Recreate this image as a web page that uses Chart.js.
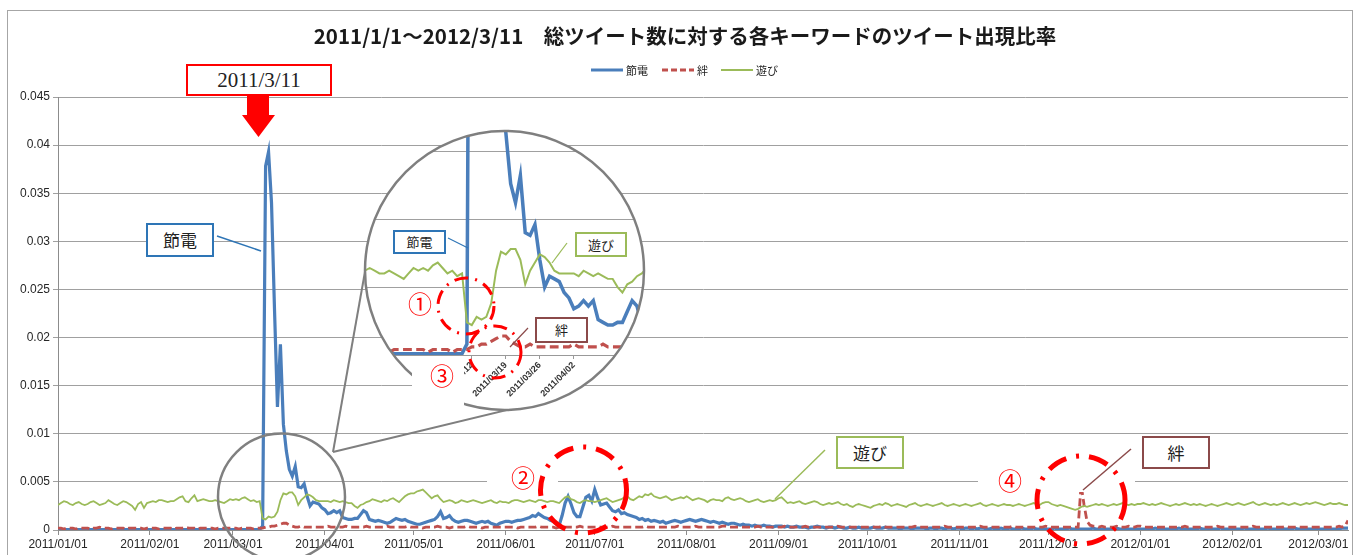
<!DOCTYPE html>
<html lang="ja">
<head>
<meta charset="utf-8">
<title>総ツイート数に対する各キーワードのツイート出現比率</title>
<script src="https://cdn.jsdelivr.net/npm/chart.js@4/dist/chart.umd.min.js"></script>
<style>
  html, body { margin: 0; padding: 0; background: #fff; }
  body { width: 1354px; height: 555px; position: relative; overflow: hidden; font-family: "Noto Sans CJK JP", "Noto Sans", sans-serif; }
  #frame { position: absolute; left: 7px; top: 10px; width: 1344px; height: 560px; border: 1px solid #a6a6a6; }
  #main { position: absolute; left: 0; top: 0; z-index: 1; }
  #title { position: absolute; left: 0; top: 20px; width: 1370px; text-align: center; font-size: 20.5px; font-weight: bold; color: #1a1a1a; z-index: 2; }
  .leg { position: absolute; top: 62px; font-size: 11px; color: #222; z-index: 2; }
  svg.layer { position: absolute; left: 0; top: 0; }
  #under { z-index: 2; }
  #insetWrap { position: absolute; left: 365px; top: 131px; width: 279px; height: 279px; clip-path: circle(139.5px at 50% 50%); background: #fff; z-index: 3; }
  #inset { position: absolute; left: 0; top: 0; }
  #over { z-index: 4; }
  .box { position: absolute; box-sizing: border-box; background: #fff; text-align: center; color: #222; z-index: 5; }
  .num { position: absolute; color: #ff0000; font-size: 24px; z-index: 5; line-height: 1; }
</style>
</head>
<body>
<div id="frame"></div>
<canvas id="main" width="1354" height="555"></canvas>
<div id="title">2011/1/1～2012/3/11　総ツイート数に対する各キーワードのツイート出現比率</div>

<svg class="layer" id="legendLines" width="1354" height="555" style="z-index:2">
  <line x1="591" y1="70" x2="623" y2="70" stroke="#4a7ebb" stroke-width="3"/>
  <line x1="662" y1="70" x2="694" y2="70" stroke="#c0504d" stroke-width="3" stroke-dasharray="6 3"/>
  <line x1="721" y1="70" x2="753" y2="70" stroke="#9bbb59" stroke-width="2"/>
</svg>
<div class="leg" style="left:626px">節電</div>
<div class="leg" style="left:697px">絆</div>
<div class="leg" style="left:756px">遊び</div>

<svg class="layer" id="under" width="1354" height="555">
  <rect x="487" y="466" width="71" height="26" fill="#fff"/>
  <rect x="978" y="466" width="157" height="26" fill="#fff"/>
  <line x1="333" y1="452" x2="366" y2="266" stroke="#7f7f7f" stroke-width="2"/>
  <line x1="333" y1="452" x2="515" y2="408" stroke="#7f7f7f" stroke-width="2"/>
  <circle cx="281.5" cy="497" r="63.5" fill="none" stroke="#808080" stroke-width="2.5"/>
</svg>

<div id="insetWrap"><canvas id="inset" width="279" height="279"></canvas></div>

<svg class="layer" id="over" width="1354" height="555">
  <circle cx="504.5" cy="270.5" r="139.5" fill="none" stroke="#7f7f7f" stroke-width="2.5"/>
  <rect x="412" y="357" width="52" height="48" fill="#fff"/>
  <polygon points="247,95 269,95 269,115 275,115 258.5,137 242,115 247,115" fill="#ff0000"/>
  <line x1="217" y1="236" x2="261" y2="251" stroke="#2e75b6" stroke-width="1.5"/>
  <line x1="825" y1="450" x2="775" y2="499" stroke="#9bbb59" stroke-width="1.5"/>
  <line x1="1131" y1="449" x2="1083" y2="490" stroke="#8b4a4a" stroke-width="1.5"/>
  <line x1="448" y1="238" x2="468" y2="248" stroke="#2e75b6" stroke-width="1.2"/>
  <line x1="567" y1="243" x2="552" y2="263" stroke="#9bbb59" stroke-width="1.2"/>
  <line x1="528" y1="328" x2="510" y2="347" stroke="#8b4a4a" stroke-width="1.2"/>
  <g fill="none" stroke="#ff0000" stroke-dasharray="20 10 3 10">
    <circle cx="583.5" cy="490" r="43" stroke-width="5"/>
    <circle cx="1081" cy="500" r="44" stroke-width="5"/>
    <circle cx="466" cy="306" r="28" stroke-width="3" stroke-dasharray="14 7 2 7"/>
    <circle cx="495" cy="352" r="26" stroke-width="3" stroke-dasharray="14 7 2 7"/>
  </g>
</svg>

<div class="box" style="left:186px;top:64px;width:146px;height:32px;border:2px solid #ff0000;font-family:'Liberation Serif',serif;font-size:21px;line-height:28px;">2011/3/11</div>
<div class="box" style="left:146px;top:223px;width:68px;height:34px;border:2px solid #2e75b6;font-size:17px;line-height:30px;">節電</div>
<div class="box" style="left:836px;top:436px;width:68px;height:33px;border:2px solid #9bbb59;font-size:17px;line-height:29px;">遊び</div>
<div class="box" style="left:1142px;top:436px;width:68px;height:33px;border:2px solid #8b4a4a;font-size:17px;line-height:29px;">絆</div>
<div class="box" style="left:393px;top:230px;width:53px;height:24px;border:2px solid #2e75b6;font-size:13px;line-height:20px;">節電</div>
<div class="box" style="left:575px;top:232px;width:52px;height:25px;border:2px solid #9bbb59;font-size:13px;line-height:21px;">遊び</div>
<div class="box" style="left:535px;top:317px;width:53px;height:26px;border:2px solid #8b4a4a;font-size:13px;line-height:22px;">絆</div>
<div class="num" style="left:408px;top:291px;">①</div>
<div class="num" style="left:511px;top:465px;">②</div>
<div class="num" style="left:430px;top:363px;">③</div>
<div class="num" style="left:998px;top:468px;">④</div>

<script>
// daily dates 2011/01/01 .. 2012/03/11
const dates = [];
for (let t = new Date(2011, 0, 1); t <= new Date(2012, 2, 11); t.setDate(t.getDate() + 1)) {
  dates.push(t.getFullYear() + "/" + String(t.getMonth() + 1).padStart(2, "0") + "/" + String(t.getDate()).padStart(2, "0"));
}

const xTickLabels = ["2011/01/01", "2011/02/01", "2011/03/01", "2011/04/01", "2011/05/01", "2011/06/01", "2011/07/01",
  "2011/08/01", "2011/09/01", "2011/10/01", "2011/11/01", "2011/12/01", "2012/01/01", "2012/02/01", "2012/03/01"];
const yTicks = [0, 0.005, 0.01, 0.015, 0.02, 0.025, 0.03, 0.035, 0.04, 0.045];
const insetTickLabels = ["2011/03/12", "2011/03/19", "2011/03/26", "2011/04/02"];
const insetGrid = [0, 0.0025, 0.005, 0.0075];

// 節電
const setsuden = [
  // 2011/01
  0.00005, 0.00005, 0.00005, 0.00005, 0.00005, 0.00005, 0.00005, 0.00005, 0.00005, 0.00005,
  0.00005, 0.00005, 0.00005, 0.00005, 0.00005, 0.00005, 0.00005, 0.00005, 0.00005, 0.00005,
  0.00005, 0.00005, 0.00005, 0.00005, 0.00005, 0.00005, 0.00005, 0.00005, 0.00005, 0.00005, 0.00005,
  // 2011/02
  0.00005, 0.00005, 0.00005, 0.00005, 0.00005, 0.00005, 0.00005, 0.00005, 0.00005, 0.00005,
  0.00005, 0.00005, 0.00005, 0.00005, 0.00005, 0.00005, 0.00005, 0.00005, 0.00005, 0.00005,
  0.00005, 0.00005, 0.00005, 0.00005, 0.00005, 0.00005, 0.00005, 0.00005,
  // 2011/03
  0.00005, 0.00005, 0.00005, 0.00005, 0.00005, 0.00005, 0.00005, 0.00005, 0.00005, 0.00005,
  0.0004, 0.0378, 0.0393, 0.0340, 0.0230, 0.0128, 0.0193, 0.0110, 0.0082, 0.0063,
  0.0056, 0.0066, 0.0045, 0.0044, 0.0048, 0.0035, 0.0025, 0.0029, 0.0028, 0.0027, 0.0023,
  // 2011/04
  0.0021, 0.0017, 0.0018, 0.0020, 0.0018, 0.0020, 0.0013, 0.0012, 0.0011, 0.0011,
  0.0012, 0.0012, 0.0016, 0.0020, 0.0018, 0.0011, 0.0010, 0.0009, 0.0010, 0.0009,
  0.0008, 0.0007, 0.0008, 0.0010, 0.0012, 0.0011, 0.0010, 0.0011, 0.0009, 0.0008,
  // 2011/05
  0.0007, 0.0006, 0.0006, 0.0007, 0.0008, 0.0009, 0.0010, 0.0011, 0.0014, 0.0019,
  0.0012, 0.0013, 0.0015, 0.0011, 0.0009, 0.0008, 0.0009, 0.0010, 0.0010, 0.0009,
  0.0008, 0.0007, 0.0008, 0.0009, 0.0008, 0.0009, 0.0007, 0.0006, 0.0005, 0.0007, 0.0008,
  // 2011/06
  0.0009, 0.0009, 0.0008, 0.0009, 0.0010, 0.0010, 0.0011, 0.0012, 0.0013, 0.0015,
  0.0014, 0.0017, 0.0015, 0.0013, 0.0012, 0.0010, 0.0009, 0.0007, 0.0005, 0.0015,
  0.0028, 0.0035, 0.0027, 0.0018, 0.0014, 0.0014, 0.0024, 0.0034, 0.0036, 0.0030,
  // 2011/07
  0.0042, 0.0033, 0.0026, 0.0027, 0.0028, 0.0024, 0.0020, 0.0019, 0.0021, 0.0017,
  0.0018, 0.0016, 0.0015, 0.0014, 0.0013, 0.0011, 0.0012, 0.0010, 0.0011, 0.0009,
  0.0010, 0.0009, 0.0008, 0.0009, 0.0007, 0.0008, 0.0009, 0.0010, 0.0009, 0.0008, 0.0009,
  // 2011/08
  0.0010, 0.0011, 0.0010, 0.0009, 0.0010, 0.0011, 0.0010, 0.0009, 0.0008, 0.0009,
  0.0008, 0.0007, 0.0008, 0.0007, 0.0006, 0.0007, 0.0007, 0.0006, 0.0005, 0.0006,
  0.0005, 0.0005, 0.0004, 0.0005, 0.0004, 0.0004, 0.0005, 0.0004, 0.0004, 0.0003, 0.0004,
  // 2011/09
  0.0004, 0.0004, 0.0003, 0.0004, 0.0003, 0.0003, 0.0004, 0.0003, 0.0003, 0.0003,
  0.0002, 0.0003, 0.0003, 0.0004, 0.0003, 0.0003, 0.0002, 0.0003, 0.0003, 0.0002,
  0.0003, 0.0003, 0.0002, 0.0002, 0.0003, 0.0002, 0.0002, 0.0003, 0.0002, 0.0002,
  // 2011/10
  0.0002, 0.0002, 0.0003, 0.0002, 0.0002, 0.0002, 0.0003, 0.0002, 0.0002, 0.0002,
  0.0002, 0.0001, 0.0002, 0.0002, 0.0002, 0.0001, 0.0002, 0.0002, 0.0002, 0.0002,
  0.0001, 0.0002, 0.0002, 0.0001, 0.0002, 0.0002, 0.0001, 0.0002, 0.0002, 0.0001, 0.0002,
  // 2011/11
  0.0002, 0.0001, 0.0002, 0.0002, 0.0001, 0.0002, 0.0001, 0.0002, 0.0002, 0.0001,
  0.0001, 0.0002, 0.0001, 0.0001, 0.0002, 0.0001, 0.0001, 0.0002, 0.0001, 0.0001,
  0.0001, 0.0002, 0.0001, 0.0001, 0.0001, 0.0002, 0.0001, 0.0001, 0.0001, 0.0001,
  // 2011/12
  0.0001, 0.0001, 0.0002, 0.0001, 0.0001, 0.0001, 0.0001, 0.0002, 0.0001, 0.0001,
  0.0001, 0.0001, 0.0001, 0.0001, 0.0001, 0.0002, 0.0001, 0.0001, 0.0001, 0.0001,
  0.0001, 0.0001, 0.0001, 0.0002, 0.0001, 0.0001, 0.0001, 0.0001, 0.0001, 0.0001, 0.0001,
  // 2012/01
  0.0001, 0.0001, 0.0001, 0.0001, 0.0001, 0.0002, 0.0001, 0.0001, 0.0001, 0.0001,
  0.0001, 0.0001, 0.0001, 0.0002, 0.0001, 0.0001, 0.0001, 0.0001, 0.0001, 0.0001,
  0.0002, 0.0001, 0.0001, 0.0001, 0.0001, 0.0001, 0.0001, 0.0002, 0.0001, 0.0001, 0.0001,
  // 2012/02
  0.0001, 0.0001, 0.0001, 0.0001, 0.0002, 0.0001, 0.0001, 0.0001, 0.0001, 0.0001,
  0.0001, 0.0001, 0.0002, 0.0001, 0.0001, 0.0001, 0.0001, 0.0001, 0.0001, 0.0001,
  0.0001, 0.0002, 0.0001, 0.0001, 0.0001, 0.0001, 0.0001, 0.0001, 0.0001,
  // 2012/03
  0.0001, 0.0001, 0.0001, 0.0001, 0.0001, 0.0001, 0.0001, 0.0001, 0.0002, 0.0002, 0.0002
];

// 絆
const kizuna = [
  // 2011/01
  0.0002, 0.0002, 0.0001, 0.0002, 0.0002, 0.0002, 0.0001, 0.0002, 0.0002, 0.0002,
  0.0002, 0.0001, 0.0002, 0.0002, 0.0003, 0.0002, 0.0002, 0.0002, 0.0001, 0.0002,
  0.0002, 0.0002, 0.0002, 0.0001, 0.0002, 0.0002, 0.0002, 0.0002, 0.0002, 0.0001, 0.0002,
  // 2011/02
  0.0002, 0.0002, 0.0002, 0.0001, 0.0002, 0.0002, 0.0002, 0.0002, 0.0001, 0.0002,
  0.0002, 0.0002, 0.0003, 0.0002, 0.0002, 0.0002, 0.0001, 0.0002, 0.0002, 0.0002,
  0.0002, 0.0002, 0.0001, 0.0002, 0.0002, 0.0002, 0.0002, 0.0002,
  // 2011/03
  0.0002, 0.0002, 0.0001, 0.0002, 0.0002, 0.0002, 0.0002, 0.0001, 0.0002, 0.0002,
  0.0002, 0.0003, 0.0003, 0.0004, 0.0004, 0.0005, 0.0006, 0.0007, 0.0007, 0.0005,
  0.0004, 0.0003, 0.0003, 0.0004, 0.0003, 0.0003, 0.0003, 0.0003, 0.0003, 0.0003, 0.0003,
  // 2011/04
  0.0003, 0.0004, 0.0003, 0.0003, 0.0003, 0.0003, 0.0003, 0.0004, 0.0003, 0.0003,
  0.0003, 0.0003, 0.0003, 0.0003, 0.0004, 0.0003, 0.0003, 0.0003, 0.0003, 0.0003,
  0.0003, 0.0004, 0.0003, 0.0003, 0.0003, 0.0003, 0.0003, 0.0003, 0.0004, 0.0003,
  // 2011/05
  0.0003, 0.0003, 0.0003, 0.0002, 0.0003, 0.0003, 0.0003, 0.0003, 0.0004, 0.0003,
  0.0003, 0.0003, 0.0002, 0.0003, 0.0003, 0.0003, 0.0003, 0.0003, 0.0004, 0.0003,
  0.0003, 0.0003, 0.0003, 0.0002, 0.0003, 0.0003, 0.0003, 0.0003, 0.0003, 0.0003, 0.0003,
  // 2011/06
  0.0003, 0.0003, 0.0003, 0.0003, 0.0002, 0.0003, 0.0003, 0.0003, 0.0003, 0.0003,
  0.0003, 0.0004, 0.0003, 0.0003, 0.0003, 0.0003, 0.0003, 0.0002, 0.0003, 0.0003,
  0.0003, 0.0003, 0.0003, 0.0003, 0.0003, 0.0004, 0.0003, 0.0003, 0.0003, 0.0003,
  // 2011/07
  0.0003, 0.0003, 0.0003, 0.0003, 0.0003, 0.0003, 0.0004, 0.0003, 0.0003, 0.0003,
  0.0003, 0.0003, 0.0003, 0.0003, 0.0003, 0.0003, 0.0003, 0.0004, 0.0003, 0.0003,
  0.0003, 0.0003, 0.0003, 0.0003, 0.0003, 0.0003, 0.0003, 0.0003, 0.0004, 0.0003, 0.0003,
  // 2011/08
  0.0003, 0.0003, 0.0003, 0.0004, 0.0003, 0.0003, 0.0003, 0.0003, 0.0003, 0.0003,
  0.0003, 0.0003, 0.0004, 0.0004, 0.0003, 0.0003, 0.0003, 0.0003, 0.0003, 0.0003,
  0.0003, 0.0003, 0.0003, 0.0003, 0.0004, 0.0003, 0.0003, 0.0003, 0.0003, 0.0003, 0.0003,
  // 2011/09
  0.0003, 0.0003, 0.0004, 0.0003, 0.0003, 0.0003, 0.0003, 0.0003, 0.0003, 0.0004,
  0.0003, 0.0003, 0.0003, 0.0003, 0.0003, 0.0003, 0.0003, 0.0003, 0.0003, 0.0003,
  0.0004, 0.0003, 0.0003, 0.0003, 0.0003, 0.0003, 0.0003, 0.0003, 0.0003, 0.0003,
  // 2011/10
  0.0003, 0.0003, 0.0003, 0.0003, 0.0003, 0.0004, 0.0003, 0.0003, 0.0003, 0.0003,
  0.0003, 0.0003, 0.0003, 0.0003, 0.0003, 0.0003, 0.0004, 0.0003, 0.0003, 0.0003,
  0.0003, 0.0003, 0.0003, 0.0003, 0.0003, 0.0003, 0.0004, 0.0003, 0.0003, 0.0003, 0.0003,
  // 2011/11
  0.0003, 0.0003, 0.0003, 0.0003, 0.0003, 0.0003, 0.0003, 0.0004, 0.0003, 0.0003,
  0.0003, 0.0003, 0.0003, 0.0003, 0.0003, 0.0003, 0.0003, 0.0003, 0.0004, 0.0003,
  0.0003, 0.0003, 0.0003, 0.0003, 0.0003, 0.0003, 0.0003, 0.0003, 0.0003, 0.0004,
  // 2011/12
  0.0003, 0.0003, 0.0003, 0.0003, 0.0003, 0.0003, 0.0003, 0.0003, 0.0003, 0.0003,
  0.0003, 0.0047, 0.0026, 0.0009, 0.0005, 0.0004, 0.0004, 0.0003, 0.0004, 0.0003,
  0.0003, 0.0003, 0.0003, 0.0004, 0.0003, 0.0003, 0.0003, 0.0004, 0.0003, 0.0003, 0.0004,
  // 2012/01
  0.0004, 0.0003, 0.0003, 0.0003, 0.0003, 0.0003, 0.0003, 0.0003, 0.0003, 0.0003,
  0.0003, 0.0003, 0.0003, 0.0003, 0.0003, 0.0004, 0.0003, 0.0003, 0.0003, 0.0003,
  0.0003, 0.0003, 0.0003, 0.0003, 0.0003, 0.0003, 0.0004, 0.0003, 0.0003, 0.0003, 0.0003,
  // 2012/02
  0.0003, 0.0003, 0.0003, 0.0003, 0.0003, 0.0003, 0.0003, 0.0004, 0.0003, 0.0003,
  0.0003, 0.0003, 0.0003, 0.0003, 0.0003, 0.0003, 0.0003, 0.0003, 0.0004, 0.0003,
  0.0003, 0.0003, 0.0003, 0.0003, 0.0003, 0.0003, 0.0003, 0.0003, 0.0003,
  // 2012/03
  0.0003, 0.0003, 0.0003, 0.0003, 0.0003, 0.0003, 0.0003, 0.0004, 0.0003, 0.0004, 0.0010
];

// 遊び
const asobi = [
  // 2011/01
  0.0026, 0.0028, 0.0030, 0.0029, 0.0027, 0.0026, 0.0028, 0.0029, 0.0027, 0.0026,
  0.0027, 0.0029, 0.0030, 0.0028, 0.0026, 0.0027, 0.0028, 0.0031, 0.0029, 0.0027,
  0.0026, 0.0028, 0.0030, 0.0029, 0.0027, 0.0025, 0.0021, 0.0027, 0.0029, 0.0023, 0.0028,
  // 2011/02
  0.0029, 0.0030, 0.0029, 0.0031, 0.0031, 0.0030, 0.0029, 0.0030, 0.0030, 0.0032,
  0.0034, 0.0035, 0.0030, 0.0029, 0.0033, 0.0036, 0.0030, 0.0031, 0.0032, 0.0031,
  0.0030, 0.0030, 0.0031, 0.0030, 0.0029, 0.0028, 0.0030, 0.0032,
  // 2011/03
  0.0031, 0.0032, 0.0031, 0.0033, 0.0034, 0.0032, 0.0030, 0.0031, 0.0029, 0.0030,
  0.0012, 0.0011, 0.0014, 0.0013, 0.0014, 0.0019, 0.0031, 0.0038, 0.0037, 0.0039,
  0.0039, 0.0035, 0.0026, 0.0031, 0.0034, 0.0037, 0.0036, 0.0034, 0.0031, 0.0030, 0.0030,
  // 2011/04
  0.0030, 0.0030, 0.0029, 0.0031, 0.0030, 0.0029, 0.0030, 0.0029, 0.0028, 0.0028,
  0.0025, 0.0023, 0.0026, 0.0027, 0.0029, 0.0030, 0.0032, 0.0031, 0.0030, 0.0029,
  0.0031, 0.0030, 0.0032, 0.0033, 0.0031, 0.0029, 0.0032, 0.0035, 0.0037, 0.0038,
  // 2011/05
  0.0038, 0.0040, 0.0041, 0.0042, 0.0039, 0.0036, 0.0033, 0.0035, 0.0036, 0.0032,
  0.0029, 0.0030, 0.0031, 0.0030, 0.0028, 0.0029, 0.0031, 0.0030, 0.0029, 0.0030,
  0.0031, 0.0030, 0.0029, 0.0028, 0.0029, 0.0030, 0.0031, 0.0029, 0.0028, 0.0030, 0.0029,
  // 2011/06
  0.0029, 0.0028, 0.0030, 0.0031, 0.0031, 0.0030, 0.0029, 0.0030, 0.0031, 0.0030,
  0.0029, 0.0031, 0.0031, 0.0030, 0.0029, 0.0030, 0.0030, 0.0029, 0.0028, 0.0031,
  0.0034, 0.0035, 0.0032, 0.0031, 0.0029, 0.0028, 0.0030, 0.0031, 0.0030, 0.0030,
  // 2011/07
  0.0029, 0.0030, 0.0031, 0.0032, 0.0033, 0.0031, 0.0029, 0.0030, 0.0031, 0.0032,
  0.0034, 0.0035, 0.0032, 0.0031, 0.0033, 0.0035, 0.0034, 0.0037, 0.0036, 0.0038,
  0.0035, 0.0034, 0.0033, 0.0034, 0.0035, 0.0033, 0.0031, 0.0032, 0.0033, 0.0034, 0.0033,
  // 2011/08
  0.0035, 0.0033, 0.0031, 0.0032, 0.0033, 0.0032, 0.0031, 0.0029, 0.0031, 0.0032,
  0.0031, 0.0031, 0.0030, 0.0033, 0.0034, 0.0032, 0.0031, 0.0032, 0.0033, 0.0032,
  0.0030, 0.0029, 0.0030, 0.0031, 0.0032, 0.0030, 0.0029, 0.0030, 0.0031, 0.0030, 0.0031,
  // 2011/09
  0.0033, 0.0034, 0.0031, 0.0028, 0.0029, 0.0028, 0.0029, 0.0030, 0.0028, 0.0027,
  0.0028, 0.0029, 0.0030, 0.0029, 0.0027, 0.0026, 0.0027, 0.0028, 0.0027, 0.0028,
  0.0029, 0.0027, 0.0026, 0.0027, 0.0025, 0.0024, 0.0026, 0.0027, 0.0026, 0.0025,
  // 2011/10
  0.0024, 0.0023, 0.0025, 0.0026, 0.0027, 0.0026, 0.0028, 0.0027, 0.0025, 0.0026,
  0.0027, 0.0026, 0.0025, 0.0024, 0.0026, 0.0027, 0.0028, 0.0026, 0.0025, 0.0026,
  0.0027, 0.0026, 0.0025, 0.0026, 0.0027, 0.0028, 0.0026, 0.0025, 0.0026, 0.0027, 0.0026,
  // 2011/11
  0.0025, 0.0026, 0.0027, 0.0026, 0.0025, 0.0026, 0.0027, 0.0028, 0.0026, 0.0025,
  0.0026, 0.0027, 0.0026, 0.0025, 0.0026, 0.0027, 0.0026, 0.0026, 0.0025, 0.0026,
  0.0027, 0.0026, 0.0025, 0.0026, 0.0027, 0.0028, 0.0027, 0.0026, 0.0028, 0.0029,
  // 2011/12
  0.0029, 0.0027, 0.0026, 0.0025, 0.0026, 0.0025, 0.0024, 0.0023, 0.0022, 0.0021,
  0.0022, 0.0024, 0.0025, 0.0024, 0.0025, 0.0026, 0.0027, 0.0026, 0.0027, 0.0026,
  0.0025, 0.0026, 0.0027, 0.0026, 0.0027, 0.0028, 0.0027, 0.0026, 0.0027, 0.0026, 0.0027,
  // 2012/01
  0.0027, 0.0028, 0.0027, 0.0026, 0.0027, 0.0026, 0.0027, 0.0028, 0.0027, 0.0026,
  0.0025, 0.0026, 0.0027, 0.0026, 0.0027, 0.0028, 0.0027, 0.0026, 0.0027, 0.0026,
  0.0027, 0.0026, 0.0025, 0.0026, 0.0027, 0.0026, 0.0025, 0.0026, 0.0027, 0.0028, 0.0027,
  // 2012/02
  0.0026, 0.0027, 0.0028, 0.0027, 0.0026, 0.0027, 0.0028, 0.0029, 0.0027, 0.0026,
  0.0027, 0.0028, 0.0027, 0.0026, 0.0027, 0.0026, 0.0027, 0.0028, 0.0027, 0.0026,
  0.0027, 0.0028, 0.0027, 0.0026, 0.0027, 0.0028, 0.0027, 0.0028, 0.0029,
  // 2012/03
  0.0028, 0.0027, 0.0026, 0.0027, 0.0028, 0.0027, 0.0027, 0.0028, 0.0027, 0.0026, 0.0026
];

const monthIdx = xTickLabels.map(l => dates.indexOf(l));
const insetIdx = insetTickLabels.map(l => dates.indexOf(l));
const toXY = arr => arr.map((v, i) => ({ x: i, y: v }));

function seriesSets(scale) {
  return [
    { label: "節電", data: toXY(setsuden), borderColor: "#4a7ebb", borderWidth: 3.2 * scale, order: 3 },
    { label: "絆", data: toXY(kizuna), borderColor: "#c0504d", borderWidth: 2.8 * scale, borderDash: [8 * scale, 4 * scale], order: 2 },
    { label: "遊び", data: toXY(asobi), borderColor: "#9bbb59", borderWidth: 1.8 * scale, order: 1 }
  ].map(d => Object.assign(d, { pointRadius: 0, tension: 0, fill: false }));
}

new Chart(document.getElementById("main"), {
  type: "line",
  data: { datasets: seriesSets(1) },
  options: {
    responsive: false,
    animation: false,
    events: [],
    layout: { padding: { left: 4, right: 6, top: 97, bottom: 0 } },
    plugins: { legend: { display: false }, tooltip: { enabled: false } },
    scales: {
      x: {
        type: "linear",
        min: 0,
        max: dates.length - 1,
        afterBuildTicks: s => { s.ticks = monthIdx.map(v => ({ value: v })); },
        afterFit: s => { s.height = 25; },
        ticks: {
          autoSkip: false,
          maxRotation: 0,
          padding: 2,
          color: "#262626",
          font: { family: "Liberation Sans", size: 12 },
          callback: v => dates[v]
        },
        grid: { drawOnChartArea: false, drawTicks: true, tickLength: 5, color: "#8c8c8c" },
        border: { color: "#8c8c8c" }
      },
      y: {
        min: 0,
        max: 0.045,
        afterBuildTicks: s => { s.ticks = yTicks.map(v => ({ value: v })); },
        afterFit: s => { s.width = 54; },
        ticks: {
          padding: 3,
          color: "#262626",
          font: { family: "Liberation Sans", size: 12 },
          callback: v => String(parseFloat(v.toFixed(3)))
        },
        grid: { color: "#a0a0a0", tickLength: 5 },
        border: { color: "#8c8c8c" }
      }
    }
  }
});

// magnified view around 2011/3/11
new Chart(document.getElementById("inset"), {
  type: "line",
  data: { datasets: seriesSets(1.1) },
  options: {
    responsive: false,
    animation: false,
    events: [],
    layout: { padding: 0 },
    plugins: { legend: { display: false }, tooltip: { enabled: false } },
    scales: {
      x: {
        type: "linear",
        min: 48.03,
        max: 105.44,
        afterBuildTicks: s => { s.ticks = insetIdx.map(v => ({ value: v })); },
        afterFit: s => { s.height = 55; s.paddingLeft = 0; s.paddingRight = 0; },
        ticks: {
          autoSkip: false,
          minRotation: 45,
          maxRotation: 45,
          padding: 1,
          color: "#333",
          font: { family: "Liberation Sans", size: 9, weight: "bold" },
          callback: v => dates[v]
        },
        grid: { drawOnChartArea: false, tickLength: 4, color: "#999" },
        border: { color: "#999" }
      },
      y: {
        min: 0,
        max: 0.00824,
        afterBuildTicks: s => { s.ticks = insetGrid.map(v => ({ value: v })); },
        afterFit: s => { s.width = 0; },
        ticks: { display: false },
        grid: { color: "#a0a0a0", drawTicks: false },
        border: { display: false }
      }
    }
  }
});
</script>
</body>
</html>
